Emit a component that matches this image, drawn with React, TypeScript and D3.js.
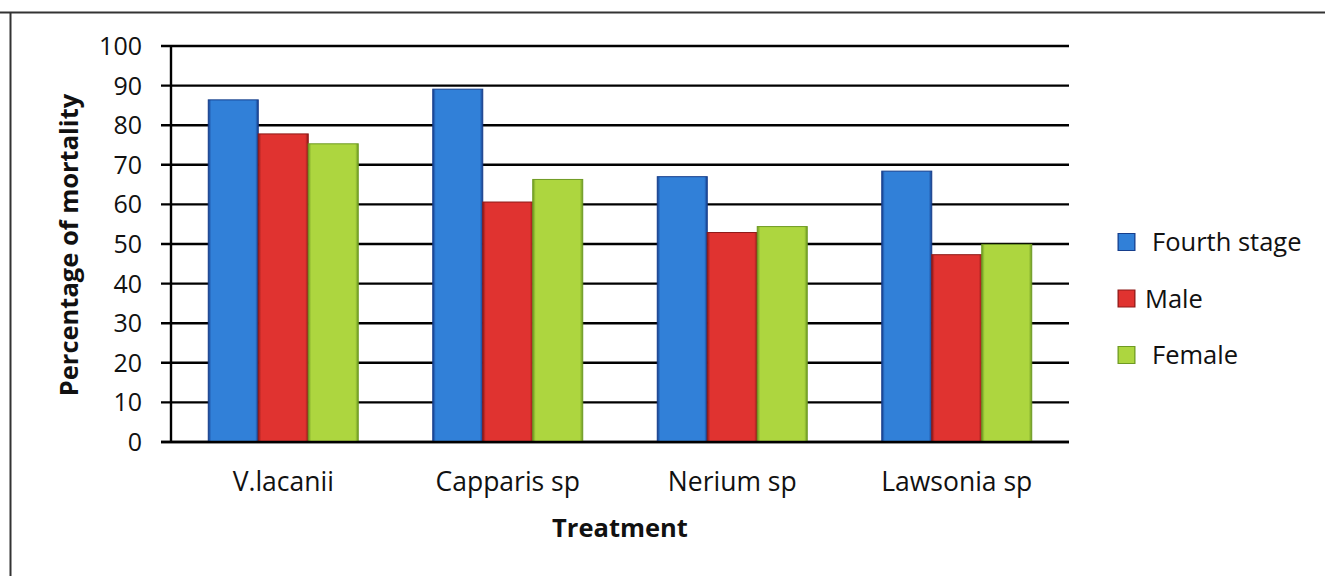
import React from "react";
import * as d3 from "d3";

const categories = ["V.lacanii", "Capparis sp", "Nerium sp", "Lawsonia sp"];
const seriesNames = ["Fourth stage", "Male", "Female"];
const fourthStage = [86.4, 89.1, 67.0, 68.4];
const male = [77.8, 60.6, 52.9, 47.3];
const female = [75.3, 66.3, 54.4, 49.9];
const yTicks = [0, 10, 20, 30, 40, 50, 60, 70, 80, 90, 100];

const fills = ["#3180D8", "#E03330", "#ADD63F"];
const strokes = ["#163E8C", "#8E1A18", "#6E9A22"];

export default function App() {
  const W = 1325, H = 576;
  const left = 171, right = 1069, top = 46, bottom = 442;
  const font = "'Open Sans', Calibri, sans-serif";
  const x = d3.scaleBand<string>().domain(categories).range([left, right]).paddingInner(0.332).paddingOuter(0.166);
  const y = d3.scaleLinear().domain([0, 100]).range([bottom, top]);
  const xs = d3.scaleBand<string>().domain(seriesNames).range([0, x.bandwidth()]);
  const series = [fourthStage, male, female];

  return (
    <svg width={W} height={H} style={{ position: "absolute", left: 0, top: 0, background: "#fff" }}>
      <defs>
        {fills.map((f, i) => (
          <linearGradient key={i} id={`g${i}`} x1="0" x2="1" y1="0" y2="0">
            <stop offset="0" stopColor={strokes[i]} />
            <stop offset="0.06" stopColor={f} />
            <stop offset="0.94" stopColor={f} />
            <stop offset="1" stopColor={strokes[i]} />
          </linearGradient>
        ))}
      </defs>
      <rect width={W} height={H} fill="#fff" />
      <line x1={0} x2={W} y1={12.5} y2={12.5} stroke="#333" strokeWidth={2} />
      <line x1={10.5} x2={10.5} y1={12} y2={H} stroke="#333" strokeWidth={2} />
      {yTicks.map(t => (
        <g key={t}>
          <line x1={161} x2={right} y1={y(t)} y2={y(t)} stroke="#000" strokeWidth={2.4} />
          <text x={142} y={y(t)} dy="0.36em" textAnchor="end" fontFamily={font} fontSize={25} fill="#111">{t}</text>
        </g>
      ))}
      <line x1={left} x2={left} y1={top} y2={bottom} stroke="#000" strokeWidth={2.4} />
      {categories.map((c, ci) =>
        series.map((s, si) => {
          const bx = (x(c) as number) + (xs(seriesNames[si]) as number);
          return (
            <rect key={`${ci}-${si}`} x={bx} y={y(s[ci])} width={xs.bandwidth()} height={bottom - y(s[ci])}
              fill={`url(#g${si})`} stroke={strokes[si]} strokeWidth={1} />
          );
        })
      )}
      <line x1={161} x2={right} y1={bottom} y2={bottom} stroke="#000" strokeWidth={2.4} />
      {categories.map(c => (
        <text key={c} x={(x(c) as number) + x.bandwidth() / 2} y={491} textAnchor="middle" fontFamily={font} fontSize={26.5} fill="#111">{c}</text>
      ))}
      <text x={620} y={537} textAnchor="middle" fontFamily={font} fontSize={25.5} fontWeight="bold" fill="#111">Treatment</text>
      <text transform={`translate(78,245) rotate(-90)`} textAnchor="middle" fontFamily={font} fontSize={25.5} fontWeight="bold" fill="#111">Percentage of mortality</text>
      {seriesNames.map((n, i) => {
        const ly = 242 + i * 56.5;
        return (
          <g key={n}>
            <rect x={1118} y={ly - 8.5} width={17} height={17} fill={`url(#g${i})`} stroke={strokes[i]} strokeWidth={1} />
            <text x={i === 1 ? 1145 : 1152} y={ly} dy="0.36em" fontFamily={font} fontSize={25.5} fill="#111">{n}</text>
          </g>
        );
      })}
    </svg>
  );
}
